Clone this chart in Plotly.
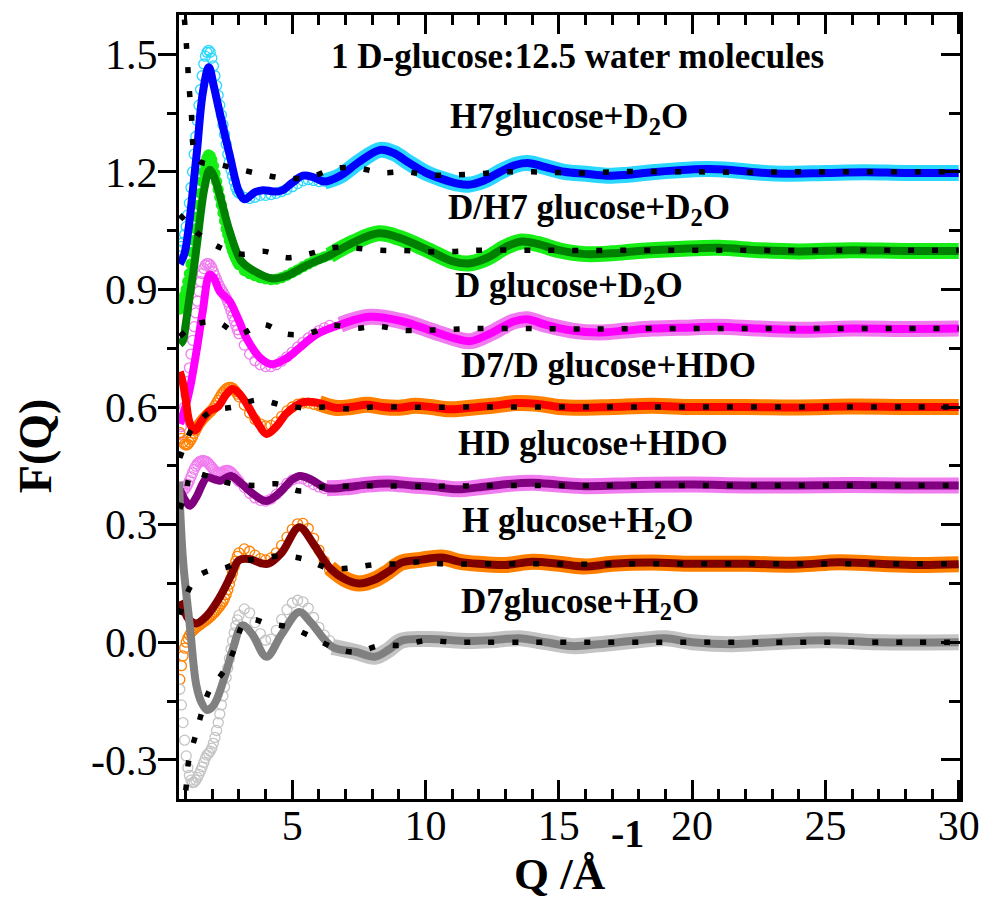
import plotly.graph_objects as go

# ---------------------------------------------------------------------------
# Total structure factors F(Q) for 1 D-glucose : 12.5 water, seven isotopic
# substitutions, each shifted vertically by 0.2.
# *_CIRC : measured data at low Q (open circles), sampled on CIRC_Q
# *_LINE : refined model (thick line), (Q, F) pairs
# *_DOT  : reference model (black dotted line), (Q, F) pairs
# ---------------------------------------------------------------------------

CIRC_Q = [0.78, 0.84, 0.90, 0.96, 1.02, 1.08, 1.14, 1.20, 1.26, 1.32,
          1.38, 1.44, 1.50, 1.56, 1.62, 1.68, 1.74, 1.80, 1.86, 1.92,
          1.98, 2.04, 2.10, 2.16, 2.22, 2.28, 2.34, 2.40, 2.46, 2.52,
          2.58, 2.64, 2.70, 2.76, 2.82, 2.88, 2.94, 3.00,
          3.2, 3.4, 3.6, 3.8, 4.0, 4.2, 4.4, 4.6, 4.8, 5.0,
          5.2, 5.4, 5.6, 5.8, 6.0, 6.2, 6.4]

# --- H7glucose + D2O (offset 1.2) ---
H7_CIRC = [1.00, 1.01, 1.02, 1.04, 1.06, 1.09, 1.12, 1.16, 1.20, 1.245,
           1.29, 1.33, 1.37, 1.41, 1.445, 1.475, 1.495, 1.505, 1.51, 1.505,
           1.49, 1.47, 1.445, 1.42, 1.395, 1.37, 1.345, 1.32, 1.295, 1.27,
           1.245, 1.225, 1.205, 1.19, 1.175, 1.16, 1.15, 1.145,
           1.135, 1.132, 1.135, 1.14, 1.14, 1.142, 1.145, 1.15, 1.155, 1.162,
           1.17, 1.177, 1.18, 1.178, 1.175, 1.176, 1.182]
H7_LINE = [(0.78, 0.965), (0.95, 0.99), (1.1, 1.05), (1.25, 1.14), (1.42, 1.25),
           (1.64, 1.40), (1.87, 1.467), (2.05, 1.42), (2.28, 1.35), (2.65, 1.243),
           (3.0, 1.149), (3.2, 1.13), (3.6, 1.148), (3.9, 1.153), (4.3, 1.15),
           (4.6, 1.152), (5.0, 1.172), (5.4, 1.19), (5.8, 1.186), (6.2, 1.175),
           (6.8, 1.19), (7.5, 1.225), (8.3, 1.256), (8.8, 1.248), (9.4, 1.222),
           (10.0, 1.198), (10.6, 1.182), (11.2, 1.17), (11.6, 1.167), (12.2, 1.178),
           (12.8, 1.2), (13.4, 1.218), (13.9, 1.222), (14.5, 1.212), (15.2, 1.2),
           (16.0, 1.195), (16.8, 1.19), (17.5, 1.192), (18.5, 1.199), (19.5, 1.204),
           (20.5, 1.207), (21.2, 1.206), (22.5, 1.198), (23.5, 1.195), (25.0, 1.197),
           (26.5, 1.199), (28.0, 1.197), (30.0, 1.197)]
H7_DOT = [(0.85, 1.65), (0.97, 1.577), (1.2, 1.36), (1.46, 1.23), (2.28, 1.218),
          (3.1, 1.205), (3.96, 1.192), (4.8, 1.183), (5.7, 1.187), (6.57, 1.208),
          (7.43, 1.21), (8.3, 1.198), (9.25, 1.2), (10.1, 1.192), (10.97, 1.192),
          (12.0, 1.195), (13.0, 1.2), (14.0, 1.2), (15.0, 1.198), (16.0, 1.197),
          (17.0, 1.2), (18.0, 1.201), (20.0, 1.2), (22.0, 1.199), (24.0, 1.2),
          (26.0, 1.2), (28.0, 1.2), (30.0, 1.2)]

# --- D/H7 glucose + D2O (offset 1.0) ---
DH7_CIRC = [0.85, 0.86, 0.87, 0.885, 0.90, 0.92, 0.94, 0.965, 0.995, 1.025,
            1.055, 1.085, 1.115, 1.145, 1.175, 1.20, 1.22, 1.235, 1.243, 1.24,
            1.23, 1.215, 1.195, 1.175, 1.155, 1.135, 1.115, 1.095, 1.075, 1.055,
            1.04, 1.025, 1.01, 0.998, 0.988, 0.978, 0.97, 0.963,
            0.948, 0.94, 0.935, 0.93, 0.927, 0.925, 0.926, 0.93, 0.936, 0.943,
            0.95, 0.958, 0.965, 0.972, 0.978, 0.983, 0.988]
DH7_LINE = [(0.78, 0.76), (0.9, 0.77), (1.0, 0.81), (1.16, 0.887), (1.3, 0.95),
            (1.45, 1.03), (1.7, 1.157), (1.9, 1.205), (2.05, 1.19), (2.28, 1.141),
            (2.65, 1.048), (3.1, 0.971), (3.6, 0.946), (4.25, 0.928), (4.8, 0.935),
            (5.5, 0.96), (6.4, 0.987), (7.3, 1.02), (8.25, 1.043), (9.0, 1.032),
            (10.1, 1.0), (11.0, 0.972), (11.6, 0.966), (12.3, 0.98), (13.0, 1.008),
            (13.6, 1.022), (14.2, 1.016), (15.0, 1.0), (16.0, 0.99), (17.0, 0.992),
            (18.0, 0.998), (19.5, 1.003), (21.0, 1.006), (22.5, 1.0), (24.0, 0.997),
            (26.0, 1.0), (28.0, 0.998), (30.0, 0.998)]
DH7_DOT = [(0.78, 1.09), (1.0, 1.075), (1.46, 1.043), (2.28, 1.007), (3.1, 0.99),
           (3.96, 0.997), (4.8, 0.981), (5.7, 0.992), (6.57, 1.007), (7.43, 1.005),
           (8.3, 1.0), (9.2, 0.999), (10.1, 0.996), (11.0, 0.997), (12.0, 1.0),
           (14.0, 1.0), (16.0, 0.999), (18.0, 1.0), (20.0, 1.0), (22.0, 1.0),
           (24.0, 0.999), (26.0, 1.0), (28.0, 1.0), (30.0, 1.0)]

# --- D glucose + D2O (offset 0.8) ---
D_CIRC = [0.53, 0.55, 0.575, 0.60, 0.63, 0.665, 0.70, 0.735, 0.77, 0.805,
          0.84, 0.87, 0.895, 0.92, 0.94, 0.953, 0.962, 0.966, 0.966, 0.962,
          0.955, 0.945, 0.935, 0.925, 0.915, 0.907, 0.90, 0.893, 0.886, 0.878,
          0.868, 0.857, 0.845, 0.832, 0.82, 0.808, 0.797, 0.787,
          0.758, 0.735, 0.718, 0.708, 0.703, 0.703, 0.708, 0.717, 0.728, 0.74,
          0.753, 0.765, 0.776, 0.786, 0.795, 0.802, 0.808]
D_LINE = [(0.78, 0.557), (0.95, 0.59), (1.16, 0.648), (1.4, 0.74), (1.64, 0.844),
          (1.9, 0.938), (2.05, 0.93), (2.28, 0.895), (2.5, 0.88), (2.65, 0.87),
          (3.0, 0.82), (3.28, 0.776), (3.8, 0.725), (4.25, 0.709), (4.8, 0.725),
          (5.26, 0.75), (5.9, 0.785), (6.8, 0.81), (7.9, 0.83), (9.1, 0.819),
          (10.2, 0.795), (11.2, 0.773), (11.7, 0.768), (12.5, 0.79), (13.3, 0.818),
          (13.8, 0.824), (14.5, 0.81), (15.5, 0.795), (16.5, 0.79), (17.5, 0.795),
          (18.5, 0.8), (20.0, 0.803), (21.0, 0.805), (22.5, 0.8), (24.0, 0.797),
          (26.0, 0.8), (28.0, 0.799), (30.0, 0.8)]
D_DOT = [(0.78, 0.78), (1.4, 0.811), (2.2, 0.816), (3.0, 0.786), (3.88, 0.811),
         (4.78, 0.786), (5.63, 0.788), (6.5, 0.808), (7.4, 0.801), (8.25, 0.806),
         (9.1, 0.796), (10.0, 0.796), (10.9, 0.798), (12.0, 0.8), (14.0, 0.8),
         (16.0, 0.799), (18.0, 0.8), (20.0, 0.8), (22.0, 0.8), (24.0, 0.8),
         (26.0, 0.8), (28.0, 0.8), (30.0, 0.8)]

# --- D7/D glucose + HDO (offset 0.6) ---
D7D_CIRC = [0.535, 0.52, 0.51, 0.505, 0.503, 0.505, 0.51, 0.517, 0.525, 0.533,
            0.541, 0.549, 0.556, 0.562, 0.567, 0.572, 0.576, 0.58, 0.584, 0.588,
            0.592, 0.597, 0.603, 0.61, 0.617, 0.624, 0.631, 0.637, 0.642, 0.646,
            0.649, 0.65, 0.65, 0.648, 0.644, 0.639, 0.633, 0.626,
            0.605, 0.585, 0.568, 0.557, 0.552, 0.553, 0.562, 0.576, 0.59, 0.6,
            0.607, 0.61, 0.61, 0.607, 0.604, 0.601, 0.599]
D7D_LINE = [(0.78, 0.69), (0.9, 0.66), (1.0, 0.62), (1.15, 0.56), (1.34, 0.54),
            (1.6, 0.565), (1.9, 0.59), (2.2, 0.6), (2.5, 0.63), (2.75, 0.646),
            (3.0, 0.635), (3.3, 0.607), (3.7, 0.56), (4.03, 0.531), (4.4, 0.55),
            (4.8, 0.585), (5.4, 0.612), (6.0, 0.61), (6.6, 0.598), (7.2, 0.6),
            (7.8, 0.606), (8.4, 0.6), (9.0, 0.598), (9.6, 0.603), (10.2, 0.6),
            (10.9, 0.594), (11.5, 0.597), (12.5, 0.603), (13.4, 0.61), (14.2, 0.608),
            (15.0, 0.6), (15.8, 0.598), (17.0, 0.6), (18.5, 0.603), (20.0, 0.6),
            (22.0, 0.6), (24.0, 0.599), (26.0, 0.601), (28.0, 0.6), (30.0, 0.6)]
D7D_DOT = [(0.78, 0.47), (1.0, 0.51), (1.25, 0.545), (2.0, 0.59), (2.8, 0.6),
           (3.7, 0.618), (4.6, 0.605), (5.4, 0.598), (6.3, 0.6), (7.2, 0.595),
           (8.0, 0.6), (9.0, 0.6), (10.0, 0.599), (12.0, 0.6), (14.0, 0.6),
           (16.0, 0.6), (18.0, 0.6), (20.0, 0.6), (22.0, 0.6), (24.0, 0.6),
           (26.0, 0.6), (28.0, 0.6), (30.0, 0.6)]

# --- HD glucose + HDO (offset 0.4) ---
HD_CIRC = [0.395, 0.39, 0.388, 0.39, 0.395, 0.403, 0.412, 0.422, 0.432, 0.441,
           0.449, 0.455, 0.459, 0.462, 0.463, 0.463, 0.462, 0.46, 0.456, 0.451,
           0.446, 0.441, 0.437, 0.434, 0.432, 0.432, 0.433, 0.435, 0.437, 0.438,
           0.438, 0.437, 0.434, 0.43, 0.425, 0.42, 0.415, 0.41,
           0.395, 0.38, 0.368, 0.362, 0.36, 0.365, 0.377, 0.392, 0.405, 0.414,
           0.418, 0.417, 0.41, 0.402, 0.396, 0.392, 0.392]
HD_LINE = [(0.78, 0.39), (1.0, 0.36), (1.16, 0.348), (1.4, 0.37), (1.8, 0.42),
           (2.1, 0.415), (2.3, 0.412), (2.7, 0.424), (3.0, 0.41), (3.5, 0.38),
           (4.03, 0.36), (4.5, 0.38), (5.0, 0.415), (5.3, 0.424), (5.7, 0.415),
           (6.3, 0.393), (7.0, 0.395), (7.8, 0.402), (8.6, 0.405), (9.5, 0.4),
           (10.3, 0.396), (11.2, 0.39), (12.0, 0.395), (13.0, 0.403), (14.0, 0.407),
           (15.0, 0.402), (16.0, 0.398), (18.0, 0.401), (20.0, 0.402), (22.0, 0.4),
           (24.0, 0.4), (26.0, 0.401), (28.0, 0.4), (30.0, 0.4)]
HD_DOT = [(0.78, 0.34), (1.0, 0.38), (1.23, 0.43), (2.1, 0.417), (2.7, 0.405),
          (3.6, 0.4), (4.4, 0.404), (5.3, 0.386), (6.2, 0.397), (7.0, 0.398),
          (8.0, 0.399), (10.0, 0.398), (12.0, 0.399), (14.0, 0.4), (16.0, 0.399),
          (18.0, 0.4), (20.0, 0.4), (22.0, 0.4), (24.0, 0.4), (26.0, 0.4),
          (28.0, 0.4), (30.0, 0.4)]

# --- H glucose + H2O (offset 0.2) ---
H_CIRC = [-0.095, -0.06, -0.035, -0.015, 0.0, 0.01, 0.018, 0.024, 0.029, 0.033,
          0.037, 0.04, 0.043, 0.046, 0.049, 0.052, 0.055, 0.058, 0.061, 0.065,
          0.069, 0.073, 0.077, 0.082, 0.087, 0.092, 0.098, 0.104, 0.112, 0.122,
          0.134, 0.148, 0.163, 0.178, 0.193, 0.207, 0.219, 0.228,
          0.238, 0.232, 0.222, 0.213, 0.21, 0.215, 0.228, 0.247, 0.268, 0.288,
          0.302, 0.303, 0.29, 0.265, 0.235, 0.207, 0.185]
H_LINE = [(0.78, 0.105), (0.95, 0.08), (1.1, 0.06), (1.4, 0.048), (1.8, 0.068),
          (2.28, 0.115), (2.7, 0.17), (3.0, 0.209), (3.4, 0.212), (3.8, 0.202),
          (4.1, 0.2), (4.6, 0.228), (5.26, 0.293), (5.8, 0.25), (6.4, 0.19),
          (7.0, 0.16), (7.5, 0.15), (8.1, 0.16), (8.6, 0.18), (9.1, 0.203),
          (9.8, 0.21), (10.6, 0.216), (11.3, 0.205), (12.0, 0.2), (13.0, 0.197),
          (14.0, 0.205), (15.0, 0.2), (16.0, 0.193), (17.0, 0.2), (18.5, 0.203),
          (20.0, 0.2), (22.0, 0.2), (24.0, 0.198), (25.5, 0.204), (27.0, 0.2),
          (28.5, 0.197), (30.0, 0.199)]
H_DOT = [(0.78, 0.07), (1.16, 0.14), (1.5, 0.17), (2.0, 0.185), (2.5, 0.19),
         (3.0, 0.205), (3.77, 0.213), (4.63, 0.22), (5.5, 0.211), (6.4, 0.188),
         (7.24, 0.19), (8.1, 0.198), (9.0, 0.2), (9.8, 0.205), (10.6, 0.2),
         (12.0, 0.2), (14.0, 0.2), (16.0, 0.199), (18.0, 0.2), (20.0, 0.2),
         (22.0, 0.2), (24.0, 0.2), (26.0, 0.2), (28.0, 0.2), (30.0, 0.2)]

# --- D7glucose + H2O (offset 0.0) ---
D7_CIRC = [-0.12, -0.16, -0.205, -0.25, -0.29, -0.32, -0.34, -0.352, -0.358, -0.357,
           -0.352, -0.345, -0.337, -0.328, -0.318, -0.307, -0.296, -0.288, -0.283, -0.278,
           -0.27, -0.258, -0.243, -0.225, -0.205, -0.183, -0.16, -0.137, -0.114, -0.09,
           -0.066, -0.042, -0.018, 0.004, 0.024, 0.042, 0.057, 0.069,
           0.085, 0.075, 0.05, 0.022, 0.005, 0.008, 0.03, 0.058, 0.083, 0.1,
           0.107, 0.103, 0.087, 0.063, 0.038, 0.018, 0.004]
D7_LINE = [(0.75, 0.41), (0.9, 0.21), (1.16, 0.04), (1.4, -0.11), (1.6, -0.155),
           (1.8, -0.173), (2.0, -0.165), (2.16, -0.147), (2.5, -0.08), (2.76, -0.02),
           (3.13, 0.043), (3.5, 0.02), (4.03, -0.037), (4.6, 0.02), (5.26, 0.077),
           (5.7, 0.05), (6.5, -0.012), (7.4, -0.025), (8.1, -0.037), (8.6, -0.02),
           (9.1, 0.004), (10.1, 0.008), (11.6, 0.003), (12.5, 0.005), (13.5, 0.01),
           (14.5, 0.0), (15.5, -0.01), (16.5, -0.005), (18.0, 0.005), (19.0, 0.01),
           (20.0, 0.0), (21.5, -0.005), (23.0, 0.0), (25.0, 0.005), (27.0, 0.0),
           (30.0, 0.0)]
D7_DOT = [(0.85, -0.5), (0.97, -0.40), (1.04, -0.355), (1.12, -0.30), (1.38, -0.236),
          (1.6, -0.18), (1.9, -0.122), (2.46, -0.071), (2.84, -0.015), (3.13, 0.043),
          (3.5, 0.058), (4.03, 0.048), (4.9, 0.038), (5.75, 0.013), (6.6, -0.015),
          (7.4, -0.025), (8.3, -0.008), (9.1, -0.008), (10.0, 0.004), (11.0, 0.0),
          (12.0, 0.0), (14.0, 0.0), (16.0, 0.0), (18.0, 0.0), (20.0, 0.0),
          (22.0, 0.0), (24.0, 0.0), (26.0, 0.0), (28.0, 0.0), (30.0, 0.0)]

SAMPLE_LABELS = ["H7glucose+D<sub>2</sub>O", "D/H7 glucose+D<sub>2</sub>O",
                 "D glucose+D<sub>2</sub>O", "D7/D glucose+HDO", "HD glucose+HDO",
                 "H glucose+H<sub>2</sub>O", "D7glucose+H<sub>2</sub>O"]
TITLE = "1 D-glucose:12.5 water molecules"
Y_TICKS = [-0.3, 0.0, 0.3, 0.6, 0.9, 1.2, 1.5]
Y_TICK_TEXT = ["-0.3", "0.0", "0.3", "0.6", "0.9", "1.2", "1.5"]
X_TICKS = [5, 10, 15, 20, 25, 30]

# (circle colour, line colour, filled circles?)
STYLES = [
    ("#2ad8ff", "#0000ff", False),
    ("#16ee16", "#008000", True),
    ("#f07cf0", "#ff00ff", False),
    ("#ff8000", "#ff0000", False),
    ("#f07cf0", "#800080", False),
    ("#ff8000", "#800000", False),
    ("#c4c4c4", "#808080", False),
]
SERIES = [
    (H7_CIRC, H7_LINE, H7_DOT), (DH7_CIRC, DH7_LINE, DH7_DOT),
    (D_CIRC, D_LINE, D_DOT), (D7D_CIRC, D7D_LINE, D7D_DOT),
    (HD_CIRC, HD_LINE, HD_DOT), (H_CIRC, H_LINE, H_DOT),
    (D7_CIRC, D7_LINE, D7_DOT),
]

W, H = 992, 907
ML, MR, MT, MB = 179, 25, 13, 108
FONT = "Liberation Serif"


def unzip(pairs):
    return [p[0] for p in pairs], [p[1] for p in pairs]


def paper_x(px):
    return (px - ML) / (W - ML - MR)


def paper_y(py):
    return (H - MB - py) / (H - MT - MB)


fig = go.Figure()

# measured data: dense band at high Q, open rings at low Q
for (circ, line, _), (ccol, _, filled) in zip(SERIES, STYLES):
    lq, lf = unzip(line)
    band = [(q, f) for q, f in zip(lq, lf) if q >= 6.0]
    bq, bf = unzip(band)
    fig.add_trace(go.Scatter(x=bq, y=bf, mode="lines",
                             line=dict(color=ccol, width=16, shape="spline"),
                             hoverinfo="skip", showlegend=False))
    fig.add_trace(go.Scatter(
        x=CIRC_Q, y=circ, mode="markers", hoverinfo="skip", showlegend=False,
        marker=dict(symbol="circle" if filled else "circle-open", size=10,
                    color=ccol, line=dict(color=ccol, width=1.3))))

# refined model
for (_, line, _), (_, lcol, _) in zip(SERIES, STYLES):
    lq, lf = unzip(line)
    fig.add_trace(go.Scatter(x=lq, y=lf, mode="lines", hoverinfo="skip",
                             showlegend=False,
                             line=dict(color=lcol, width=8, shape="spline")))

# reference model, dotted
for (_, _, dots) in SERIES:
    dq, df = unzip(dots)
    fig.add_trace(go.Scatter(x=dq, y=df, mode="lines", hoverinfo="skip",
                             showlegend=False,
                             line=dict(color="black", width=5.5, shape="spline",
                                       dash="6px,18px")))

# right-hand axis carrying the inward mirrored ticks
fig.add_trace(go.Scatter(x=[None], y=[None], yaxis="y2", showlegend=False,
                         hoverinfo="skip"))

tick_font = dict(family=FONT, size=42, color="black")

fig.update_layout(
    width=W, height=H,
    margin=dict(l=ML, r=MR, t=MT, b=MB, pad=0),
    paper_bgcolor="white", plot_bgcolor="white",
    xaxis=dict(range=[0.75, 30.05], tickmode="array", tickvals=X_TICKS,
               ticks="inside", ticklen=19, tickwidth=3, tickcolor="black",
               showline=True, linewidth=3, linecolor="black", mirror="ticks",
               showgrid=False, zeroline=False, tickfont=tick_font,
               ticklabelstandoff=-12,
               minor=dict(dtick=1, tick0=0, ticks="inside", ticklen=10,
                          tickwidth=2.5, tickcolor="black", showgrid=False)),
    yaxis=dict(range=[-0.4, 1.6], tickmode="array", tickvals=Y_TICKS,
               ticktext=Y_TICK_TEXT, ticks="outside", ticklen=18, tickwidth=3,
               tickcolor="black", showline=True, linewidth=3, linecolor="black",
               mirror=True, showgrid=False, zeroline=False, tickfont=tick_font,
               ticklabelstandoff=-8,
               minor=dict(dtick=0.15, tick0=0, ticks="outside", ticklen=9,
                          tickwidth=2.5, tickcolor="black", showgrid=False)),
    yaxis2=dict(range=[-0.4, 1.6], overlaying="y", side="right", anchor="x",
                tickmode="array", tickvals=Y_TICKS, ticks="inside", ticklen=19,
                tickwidth=3, tickcolor="black", showticklabels=False,
                showline=False, showgrid=False, zeroline=False,
                minor=dict(dtick=0.15, tick0=0, ticks="inside", ticklen=11,
                           tickwidth=2.5, tickcolor="black", showgrid=False)),
)

label_font = dict(family=FONT, size=35, color="black", weight="bold")
annotations = [dict(text=TITLE, x=paper_x(330), y=paper_y(55), xanchor="left",
                    yanchor="middle",
                    font=dict(family=FONT, size=35, color="black", weight="bold"))]
label_pos = [(450, 117), (448, 208), (455, 286), (462, 364), (458, 443),
             (463, 522), (462, 603)]
for text, (px, py) in zip(SAMPLE_LABELS, label_pos):
    annotations.append(dict(text=text, x=paper_x(px), y=paper_y(py),
                            xanchor="left", yanchor="middle", font=label_font))

# axis titles
annotations.append(dict(text="F(Q)", x=paper_x(35), y=paper_y(445),
                        xanchor="center", yanchor="middle", textangle=-90,
                        font=dict(family=FONT, size=46, color="black",
                                  weight="bold")))
annotations.append(dict(text="Q /Å", x=paper_x(612), y=paper_y(874),
                        xanchor="right", yanchor="middle",
                        font=dict(family=FONT, size=45, color="black",
                                  weight="bold")))
annotations.append(dict(text="-1", x=paper_x(613), y=paper_y(834),
                        xanchor="left", yanchor="middle",
                        font=dict(family=FONT, size=40, color="black",
                                  weight="bold")))
for a in annotations:
    a.update(xref="paper", yref="paper", showarrow=False)
fig.update_layout(annotations=annotations)

fig.write_html("out.html")
